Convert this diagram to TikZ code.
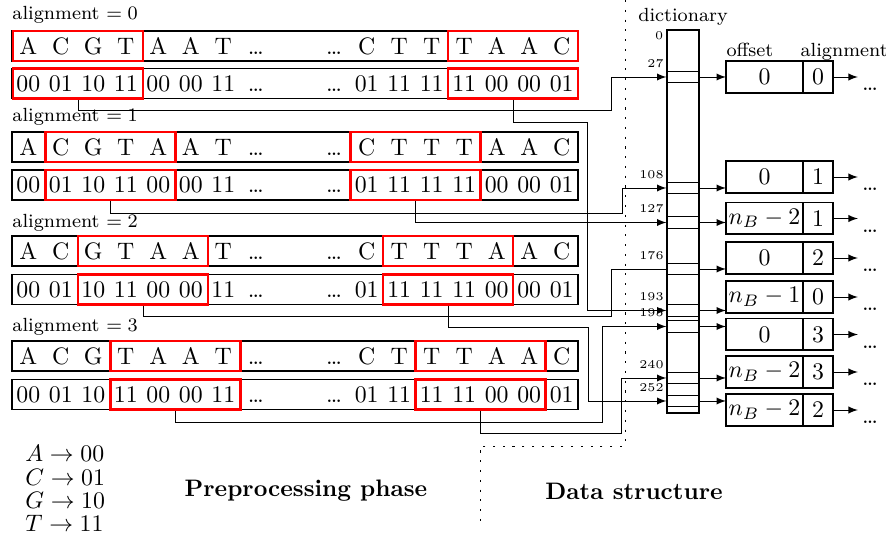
\documentclass[tikz,border=0pt]{standalone}
\usepackage{amssymb}
\usepackage{tikz}
\usetikzlibrary{positioning}

\newcommand{\syms}[1]{\foreach \sym in {#1}{\makebox[13.65pt]{\sym}}}
\newcommand{\letters}{\noindent\syms{A,C,G,T,A,A,T,\dots}\hfill\syms{\dots,C,T,T,T,A,A,C}}
\newcommand{\codes}{\noindent\syms{00,01,10,11,00,00,11,\dots}\hfill\syms{\dots,01,11,11,11,00,00,01}}

\tikzset{
  frame/.style={draw,thick,text width=237.7pt,minimum height=12.6pt,inner sep=0pt},
  hit/.style={draw=red,line width=1.2pt,minimum width=54.6pt,minimum height=12.6pt,inner sep=0pt},
  lab/.style={font=\footnotesize,inner sep=0pt},
  idx/.style={font=\tiny,inner sep=1pt},
  entry/.style={draw,minimum width=13.44pt,minimum height=5pt,inner sep=0pt},
  offs/.style={draw,thick,minimum width=32.3pt,minimum height=13.4pt,inner sep=0pt,outer sep=0pt},
  algn/.style={draw,thick,minimum width=12.6pt,minimum height=13.4pt,inner sep=0pt,outer sep=0pt},
  more/.style={anchor=north west,inner xsep=1.5pt,inner ysep=4.5pt},
  link/.style={->,>=latex},
  sep/.style={dash pattern=on 0.9pt off 3.2pt}
}

\begin{document}
\begin{tikzpicture}[x=0.42pt,y=-0.42pt]
  \useasboundingbox (0,0) rectangle (886,533);

  % alignment 0
  \node[lab,anchor=base west] (al0) at (12,20) {alignment $=0$};
  \node[frame] (s0) at (295,46) {\letters};
  \node[frame] (b0) at (295,83.5) {\codes};
  \node[hit] (s0l) at (78,46) {};
  \node[hit] (s0r) at (513,46) {};
  \node[hit] (b0l) at (78,83.5) {};
  \node[hit] (b0r) at (513,83.5) {};
  % alignment 1
  \node[lab,anchor=base west] (al1) at (12,122) {alignment $=1$};
  \node[frame] (s1) at (295,147) {\letters};
  \node[frame] (b1) at (295,185) {\codes};
  \node[hit] (s1l) at (110.5,147) {};
  \node[hit] (s1r) at (415.5,147) {};
  \node[hit] (b1l) at (110.5,185) {};
  \node[hit] (b1r) at (415.5,185) {};
  % alignment 2
  \node[lab,anchor=base west] (al2) at (12,228) {alignment $=2$};
  \node[frame] (s2) at (295,251) {\letters};
  \node[frame] (b2) at (295,289.5) {\codes};
  \node[hit] (s2l) at (143,251) {};
  \node[hit] (s2r) at (448,251) {};
  \node[hit] (b2l) at (143,289.5) {};
  \node[hit] (b2r) at (448,289.5) {};
  % alignment 3
  \node[lab,anchor=base west] (al3) at (12,332) {alignment $=3$};
  \node[frame] (s3) at (295,356) {\letters};
  \node[frame] (b3) at (295,394.5) {\codes};
  \node[hit] (s3l) at (175.5,356) {};
  \node[hit] (s3r) at (480.5,356) {};
  \node[hit] (b3l) at (175.5,394.5) {};
  \node[hit] (b3r) at (480.5,394.5) {};

  % dictionary
  \node[draw,thick,minimum width=13.44pt,minimum height=160.9pt,inner sep=0pt] (dict) at (683,221.5) {};
  \node[lab,anchor=south] (dictl) at ([yshift=1.5pt]dict.north) {dictionary};
  \node[idx,anchor=north east] (i0) at (dict.north west) {0};
  \foreach \key/\ey/\by/\o/\a in {27/77/77/0/0, 108/188/177/0/1, 127/222.5/218.5/$n_B-2$/1,
      176/269/258/0/2, 193/310.5/297/$n_B-1$/0, 195/326.5/334.5/0/3,
      240/378/372/$n_B-2$/3, 252/401/410/$n_B-2$/2}{
    \node[entry] (e\key) at (683,\ey) {};
    \node[idx,anchor=south east] (i\key) at (e\key.north west) {\key};
    \node[offs] (o\key) at (764.5,\by) {\o};
    \node[algn,right=0pt of o\key] (a\key) {\a};
    \node[more] (m\key) at ([xshift=10.5pt]a\key.east) {\dots};
    \draw[link] (e\key.east) -- (e\key.east -| o\key.west);
    \draw[link] (a\key.east) -- (m\key.west |- a\key.east);
  }
  \node[lab,anchor=base west] (offl) at ([yshift=2pt]o27.north west) {offset};
  \node[lab,anchor=base west] (algl) at ([xshift=-1.2pt,yshift=2pt]a27.north west) {alignment};

  % hashing the red windows
  \draw[link] (b0l.south) |- (611,110) |- (e27.west);
  \draw[link] (b0r.south) |- (587,122) |- (e193.west);
  \draw[link] (b1l.south) |- (622,213) |- (e108.west);
  \draw[link] (b1r.south) |- (e127.west);
  \draw (b2l.south) |- (611,316) |- (e176.west);
  \draw[link] (b2r.south) |- (588,327) |- (e252.west);
  \draw[link] (b3l.south) |- (602,422) |- (e195.west);
  \draw[link] (b3r.south) |- (621,433) |- (e240.west);

  \draw[sep] (625,0) -- (625,446) -- (480,446) -- (480,523);

  \node[anchor=north west,inner sep=0pt,align=left,font=\fontsize{10pt}{9.8pt}\selectfont] (code) at (25,445)
    {$A\rightarrow 00$\\$C\rightarrow 01$\\$G\rightarrow 10$\\$T\rightarrow 11$};
  \node[font=\bfseries] (prep) at (306,491) {Preprocessing phase};
  \node[font=\bfseries] (data) at (634,491) {Data structure};
\end{tikzpicture}
\end{document}
